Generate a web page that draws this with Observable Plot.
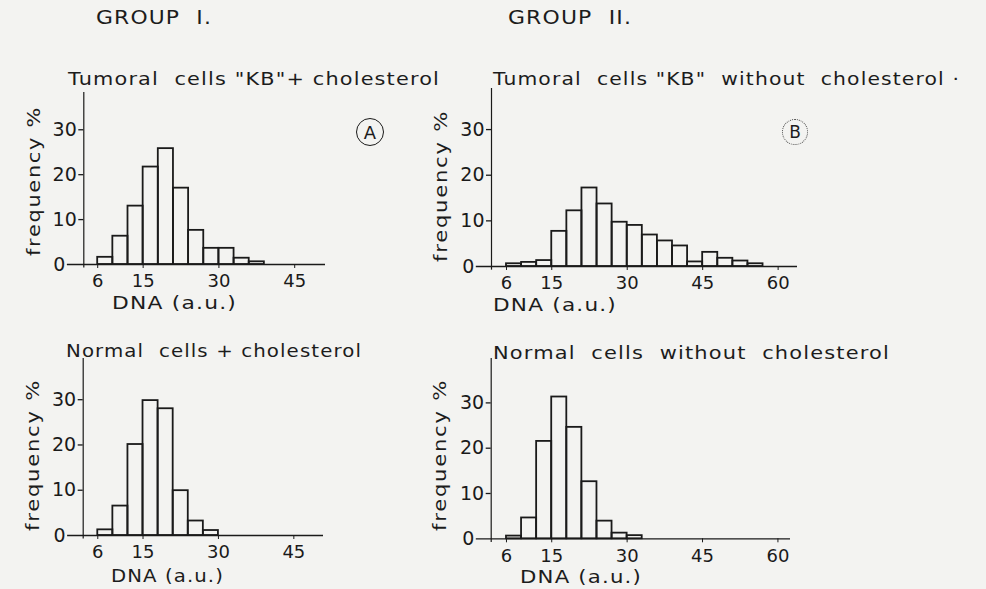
<!DOCTYPE html>
<html><head><meta charset="utf-8">
<script src="https://cdn.jsdelivr.net/npm/d3@7"></script>
<script src="https://cdn.jsdelivr.net/npm/@observablehq/plot@0.6"></script>
<style>
html,body{margin:0;padding:0;background:#f3f3f1;}
#page{position:relative;width:986px;height:589px;overflow:hidden;font-family:"DejaVu Sans",sans-serif;color:#1c1c1c;background:#f3f3f1;}
.t{position:absolute;white-space:pre;line-height:1;}
.panel{position:absolute;}
.circ{position:absolute;border-radius:50%;box-sizing:border-box;display:flex;align-items:center;justify-content:center;font-family:"DejaVu Sans",sans-serif;}
</style></head>
<body><div id="page"></div>
<script>
// ---- data ----
const binWidth = 3;
const binStartA = [6, 9, 12, 15, 18, 21, 24, 27, 30, 33, 36];
const freqA     = [1.6, 6.3, 13.0, 21.7, 25.8, 17.0, 7.6, 3.6, 3.6, 1.4, 0.6];
const binStartB = [6, 9, 12, 15, 18, 21, 24, 27, 30, 33, 36, 39, 42, 45, 48, 51, 54];
const freqB     = [0.6, 0.9, 1.3, 7.7, 12.2, 17.2, 13.7, 9.7, 9.0, 6.9, 5.6, 4.5, 1.0, 3.1, 1.8, 1.2, 0.6];
const binStartC = [6, 9, 12, 15, 18, 21, 24, 27];
const freqC     = [1.25, 6.5, 20.1, 29.8, 28.0, 9.9, 3.2, 1.1];
const binStartD = [6, 9, 12, 15, 18, 21, 24, 27, 30];
const freqD     = [0.6, 4.6, 21.5, 31.3, 24.6, 12.6, 3.9, 1.25, 0.7];
const yTicks = [10, 20, 30];
const xTicksI  = [6, 15, 30, 45];
const xTicksII = [6, 15, 30, 45, 60];
const groupTitles = ["GROUP  I.", "GROUP  II."];
const panelTitles = ["Tumoral  cells \"KB\"+ cholesterol", "Tumoral  cells \"KB\"  without  cholesterol ·",
                     "Normal  cells + cholesterol", "Normal  cells  without  cholesterol"];
const xLabel = "DNA (a.u.)";
const yLabel = "frequency %";
const panelLetters = ["A", "B"];

const ink = "#1a1a1a";
const page = document.getElementById("page");

function panel(cfg) {
  const data = cfg.starts.map((s, i) => ({x1: s, x2: s + binWidth, y: cfg.freq[i]}));
  const svg = Plot.plot({
    width: cfg.w, height: cfg.h,
    marginLeft: cfg.ml, marginRight: cfg.mr, marginTop: cfg.mt, marginBottom: cfg.mb,
    style: {background: "transparent", fontFamily: "DejaVu Sans", color: ink, overflow: "visible"},
    x: {domain: [cfg.xAxis, cfg.xEnd]},
    y: {domain: [0, cfg.yTop]},
    marks: [
      Plot.rectY(data, {x1: "x1", x2: "x2", y: "y", fill: "none", stroke: ink, strokeWidth: 1.8}),
      Plot.ruleY([0], {x1: 0, x2: cfg.xEnd, stroke: ink, strokeWidth: 1.3}),
      Plot.ruleX([cfg.xAxis], {y1: -0.8, y2: cfg.yTop, stroke: ink, strokeWidth: 1.2}),
      Plot.axisY({ticks: yTicks, tickSize: 5, tickPadding: 2, fontSize: 19, label: null, strokeWidth: 1.3}),
      Plot.axisX({ticks: cfg.xTicks, tickSize: 4, tickPadding: 6, fontSize: 18, label: null}),
      Plot.text([0], {x: 0, y: 0, text: d => String(d), textAnchor: "end", dx: -2, fontSize: 19})
    ]
  });
  svg.classList.add("panel");
  svg.style.left = cfg.left + "px";
  svg.style.top = cfg.top + "px";
  page.appendChild(svg);
}

panel({starts: binStartA, freq: freqA, xTicks: xTicksI, left: 0, top: 60, w: 400, h: 260,
       ml: 83.3, mr: 75, mt: 32, mb: 56, xAxis: 3.25, xEnd: 51.1, yTop: 38.3});
panel({starts: binStartB, freq: freqB, xTicks: xTicksII, left: 400, top: 60, w: 420, h: 260,
       ml: 91, mr: 23, mt: 28, mb: 54, xAxis: 3.02, xEnd: 63.85, yTop: 39.0});
panel({starts: binStartC, freq: freqC, xTicks: xTicksI, left: 0, top: 330, w: 400, h: 259,
       ml: 82.7, mr: 77, mt: 28, mb: 54, xAxis: 3.1, xEnd: 50.9, yTop: 39.1});
panel({starts: binStartD, freq: freqD, xTicks: xTicksII, left: 400, top: 330, w: 420, h: 259,
       ml: 90.7, mr: 30, mt: 28, mb: 50.7, xAxis: 2.96, xEnd: 62.5, yTop: 39.8});

// ---- text: slight letter-spacing, then horizontal stretch to the measured width ----
function fitText(str, fs, x, baseline, width) {
  const d = document.createElement("div");
  d.className = "t";
  d.textContent = str;
  d.style.fontSize = fs + "px";
  d.style.letterSpacing = "1px";
  page.appendChild(d);
  const nat = d.getBoundingClientRect().width;
  const s = width / nat;
  d.style.left = x + "px";
  d.style.top = (baseline - 0.846 * fs) + "px";
  d.style.transformOrigin = "0 0";
  d.style.transform = "scaleX(" + s + ")";
  return d;
}
function fitVertical(str, fs, cx, cy, length) {
  const d = document.createElement("div");
  d.className = "t";
  d.textContent = str;
  d.style.fontSize = fs + "px";
  d.style.letterSpacing = "1.5px";
  page.appendChild(d);
  const r = d.getBoundingClientRect();
  const s = length / r.width;
  d.style.left = (cx - r.width / 2) + "px";
  d.style.top = (cy - r.height / 2) + "px";
  d.style.transformOrigin = "50% 50%";
  d.style.transform = "rotate(-90deg) scaleX(" + s + ")";
}

fitText(groupTitles[0], 19, 96, 24, 116);
fitText(groupTitles[1], 19, 508, 24, 124);
fitText(panelTitles[0], 18, 68, 85, 372);
fitText(panelTitles[1], 18, 493, 85, 467);
fitText(panelTitles[2], 18, 66, 357, 296);
fitText(panelTitles[3], 18, 493, 359, 397);

fitText(xLabel, 18, 112, 309, 125);
fitText(xLabel, 18, 493, 311, 124);
fitText(xLabel, 18, 111, 582, 113);
fitText(xLabel, 18, 520, 583, 122);

fitVertical(yLabel, 18, 34, 181, 150);
fitVertical(yLabel, 18, 441, 186, 152);
fitVertical(yLabel, 18, 33, 455, 152);
fitVertical(yLabel, 18, 440, 455, 152);

function circ(letter, cx, cy, r, border, fs) {
  const d = document.createElement("div");
  d.className = "circ";
  d.textContent = letter;
  d.style.left = (cx - r) + "px";
  d.style.top = (cy - r) + "px";
  d.style.width = d.style.height = (2 * r) + "px";
  d.style.border = border;
  d.style.fontSize = fs + "px";
  page.appendChild(d);
}
circ(panelLetters[0], 370, 132, 14, "1.4px solid " + ink, 18);
circ(panelLetters[1], 795, 132, 13, "1px dotted #444", 17);
</script>
</body></html>
